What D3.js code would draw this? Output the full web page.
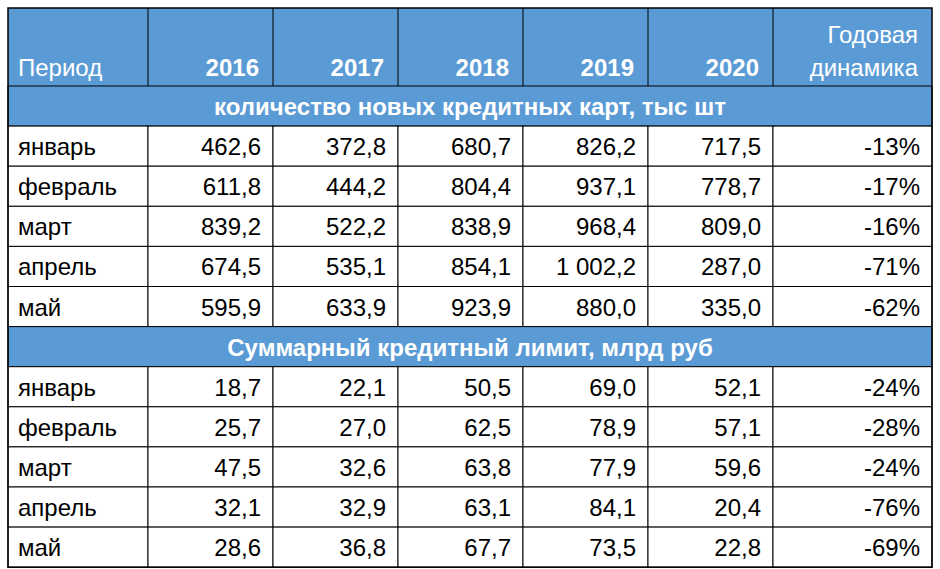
<!DOCTYPE html>
<html>
<head>
<meta charset="utf-8">
<script src="https://cdn.jsdelivr.net/npm/d3@7"></script>
<style>
  body { margin: 0; background: #fff; }
  text { font-family: "Liberation Sans", "Open Sans", sans-serif; }
</style>
</head>
<body>
<svg id="chart" width="940" height="569"></svg>
<script>
// header labels
const headers = ["Период", "2016", "2017", "2018", "2019", "2020", "Годовая|динамика"];
const months = ["январь", "февраль", "март", "апрель", "май"];

// section 1: new credit cards, thousand
const cardsTitle = "количество новых кредитных карт, тыс шт";
const cards = [
  ["462,6", "372,8", "680,7", "826,2", "717,5", "-13%"],
  ["611,8", "444,2", "804,4", "937,1", "778,7", "-17%"],
  ["839,2", "522,2", "838,9", "968,4", "809,0", "-16%"],
  ["674,5", "535,1", "854,1", "1 002,2", "287,0", "-71%"],
  ["595,9", "633,9", "923,9", "880,0", "335,0", "-62%"]
];

// section 2: total credit limit, bn rub
const limitTitle = "Суммарный кредитный лимит, млрд руб";
const limits = [
  ["18,7", "22,1", "50,5", "69,0", "52,1", "-24%"],
  ["25,7", "27,0", "62,5", "78,9", "57,1", "-28%"],
  ["47,5", "32,6", "63,8", "77,9", "59,6", "-24%"],
  ["32,1", "32,9", "63,1", "84,1", "20,4", "-76%"],
  ["28,6", "36,8", "67,7", "73,5", "22,8", "-69%"]
];

const blue = "#5B9BD5";
const left = 8, topY = 8, headerH = 78, rowH = 40.1;
const colW = [140, 125, 125, 125, 125, 125, 159];
const colX = d3.cumsum([left, ...colW]);  // edges
const svg = d3.select("#chart");

// build row list
const rows = [];
rows.push({ type: "section", label: cardsTitle });
cards.forEach((r, i) => rows.push({ type: "data", cells: [months[i], ...r] }));
rows.push({ type: "section", label: limitTitle });
limits.forEach((r, i) => rows.push({ type: "data", cells: [months[i], ...r] }));

const y = d3.scaleBand()
  .domain(d3.range(rows.length))
  .range([topY + headerH, topY + headerH + rowH * rows.length]);

// header
svg.append("rect").attr("x", left).attr("y", topY)
  .attr("width", colX[7] - left).attr("height", headerH).attr("fill", blue);

headers.forEach((h, i) => {
  const lines = h.split("|");
  const t = svg.append("text")
    .attr("fill", "#fff").attr("font-size", 24)
    .attr("font-weight", i > 0 && i < 6 ? "bold" : "normal")
    .attr("text-anchor", i === 0 ? "start" : "end")
    .attr("x", i === 0 ? colX[0] + 10 : colX[i + 1] - 14);
  lines.forEach((l, k) => {
    t.append("tspan").attr("x", t.attr("x"))
      .attr("y", topY + headerH - 10 - (lines.length - 1 - k) * 33)
      .text(l);
  });
});

// body
const g = svg.selectAll(".row").data(rows).join("g").attr("class", "row")
  .attr("transform", (d, i) => `translate(0,${y(i)})`);

g.filter(d => d.type === "section").each(function (d) {
  const s = d3.select(this);
  s.append("rect").attr("x", left).attr("width", colX[7] - left)
    .attr("height", y.bandwidth()).attr("fill", blue)
    .attr("stroke", "#000").attr("stroke-width", 1);
  s.append("text").attr("x", (left + colX[7]) / 2).attr("y", y.bandwidth() / 2 + 9)
    .attr("text-anchor", "middle").attr("fill", "#fff")
    .attr("font-size", 24).attr("font-weight", "bold").text(d.label);
});

g.filter(d => d.type === "data").each(function (d) {
  const s = d3.select(this);
  s.selectAll("rect").data(d.cells).join("rect")
    .attr("x", (c, i) => colX[i]).attr("width", (c, i) => colW[i])
    .attr("height", y.bandwidth()).attr("fill", "#fff")
    .attr("stroke", "#000").attr("stroke-width", 1);
  s.selectAll("text").data(d.cells).join("text")
    .attr("x", (c, i) => i === 0 ? colX[0] + 10 : colX[i + 1] - 12)
    .attr("y", y.bandwidth() / 2 + 9)
    .attr("text-anchor", (c, i) => i === 0 ? "start" : "end")
    .attr("font-size", 24).attr("fill", "#000").text(c => c);
});

// header column lines and outer frame
svg.selectAll(".hline").data(colX.slice(1, 7)).join("line")
  .attr("x1", d => d).attr("x2", d => d)
  .attr("y1", topY).attr("y2", topY + headerH).attr("stroke", "#000");
svg.append("rect").attr("x", left).attr("y", topY)
  .attr("width", colX[7] - left).attr("height", y.range()[1] - topY)
  .attr("fill", "none").attr("stroke", "#000").attr("stroke-width", 1.5);
</script>
</body>
</html>
